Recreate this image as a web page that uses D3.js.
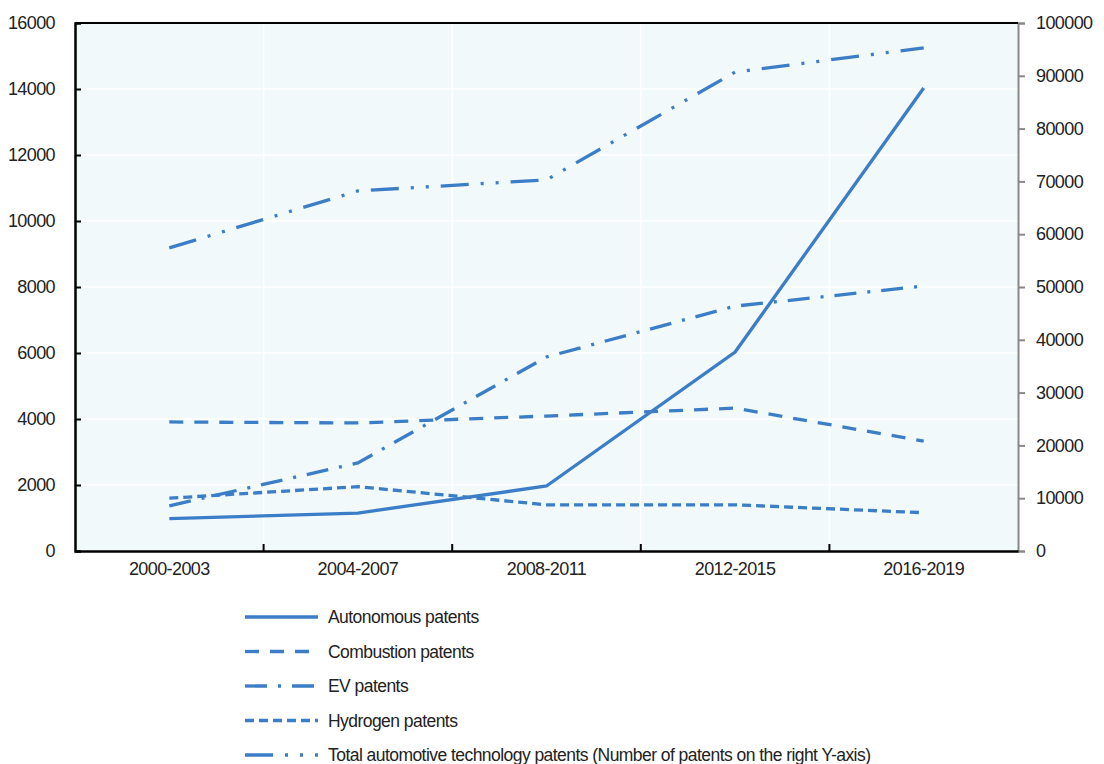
<!DOCTYPE html>
<html>
<head>
<meta charset="utf-8">
<script src="https://cdn.jsdelivr.net/npm/d3@7"></script>
<style>
  body { margin: 0; background: #fff; }
  text { font-family: "Liberation Sans", Arial, sans-serif; fill: #222; }
</style>
</head>
<body>
<script>
const periods = ["2000-2003", "2004-2007", "2008-2011", "2012-2015", "2016-2019"];
const autonomous = [980, 1150, 1970, 6030, 14030];
const combustion = [3910, 3880, 4090, 4330, 3330];
const ev = [1370, 2670, 5880, 7420, 8030];
const hydrogen = [1600, 1950, 1400, 1400, 1160];
const totalAuto = [57400, 68200, 70300, 90700, 95300];
const leftTicks = [0, 2000, 4000, 6000, 8000, 10000, 12000, 14000, 16000];
const rightTicks = [0, 10000, 20000, 30000, 40000, 50000, 60000, 70000, 80000, 90000, 100000];

const series = [
  { name: "Autonomous patents", values: autonomous, axis: "left", dash: null },
  { name: "Combustion patents", values: combustion, axis: "left", dash: "14,11" },
  { name: "EV patents", values: ev, axis: "left", dash: "22,11,3,11" },
  { name: "Hydrogen patents", values: hydrogen, axis: "left", dash: "9,5" },
  { name: "Total automotive technology patents (Number of patents on the right Y-axis)", values: totalAuto, axis: "right", dash: "28,12,3,12,3,12" }
];

const width = 1104;
const height = 764;
const plot = { left: 75, right: 1018, top: 23, bottom: 551 };
const color = "#3b7ec7";

const svg = d3.select("body").append("svg")
  .attr("width", width)
  .attr("height", height);

const xScale = d3.scaleBand()
  .domain(periods)
  .range([plot.left, plot.right]);

const yLeft = d3.scaleLinear().domain([0, 16000]).range([plot.bottom, plot.top]);
const yRight = d3.scaleLinear().domain([0, 100000]).range([plot.bottom, plot.top]);

// plot background
svg.append("rect")
  .attr("x", plot.left)
  .attr("y", plot.top)
  .attr("width", plot.right - plot.left)
  .attr("height", plot.bottom - plot.top)
  .attr("fill", "#f2f9fa");

// grid
const grid = svg.append("g");
grid.selectAll("line.h")
  .data(leftTicks.slice(1, -1))
  .enter().append("line")
  .attr("x1", plot.left).attr("x2", plot.right)
  .attr("y1", (d) => yLeft(d)).attr("y2", (d) => yLeft(d))
  .attr("stroke", "#fff").attr("stroke-width", 1.5);

grid.selectAll("line.v")
  .data(periods.slice(1))
  .enter().append("line")
  .attr("x1", (d) => xScale(d)).attr("x2", (d) => xScale(d))
  .attr("y1", plot.top).attr("y2", plot.bottom)
  .attr("stroke", "#fff").attr("stroke-width", 1.5);

// lines
const lineGroup = svg.append("g");
series.forEach((s) => {
  const y = s.axis === "left" ? yLeft : yRight;
  const line = d3.line()
    .x((d, i) => xScale(periods[i]) + xScale.bandwidth() / 2)
    .y((d) => y(d));
  lineGroup.append("path")
    .datum(s.values)
    .attr("d", line)
    .attr("fill", "none")
    .attr("stroke", color)
    .attr("stroke-width", 3.3)
    .attr("stroke-dasharray", s.dash);
});

// axes
const fontSize = 18;
const styleTicks = (sel) =>
  sel
    .attr("font-size", fontSize)
    .attr("letter-spacing", "-0.6")
    .attr("font-family", "Liberation Sans, Arial, sans-serif")
    .attr("fill", "#222");

const leftAxis = svg.append("g")
  .attr("transform", `translate(${plot.left} 0)`)
  .call(d3.axisLeft(yLeft).tickValues(leftTicks).tickSize(-6).tickPadding(20).tickFormat(d3.format("d")));
leftAxis.select(".domain").attr("stroke", "#000").attr("stroke-width", 2.5);
leftAxis.selectAll(".tick line").attr("stroke", "#000").attr("stroke-width", 2);
styleTicks(leftAxis.selectAll(".tick text"));
leftAxis.selectAll(".tick").filter((d) => d === 0 || d === 16000).select("line").remove();

const rightAxis = svg.append("g")
  .attr("transform", `translate(${plot.right} 0)`)
  .call(d3.axisRight(yRight).tickValues(rightTicks).tickSize(7).tickPadding(11).tickFormat(d3.format("d")));
rightAxis.select(".domain").attr("stroke", "#888").attr("stroke-width", 2);
rightAxis.selectAll(".tick line").attr("stroke", "#888").attr("stroke-width", 2);
styleTicks(rightAxis.selectAll(".tick text"));

// top border
svg.append("line")
  .attr("x1", plot.left).attr("x2", plot.right)
  .attr("y1", plot.top).attr("y2", plot.top)
  .attr("stroke", "#000").attr("stroke-width", 2);

const bottomAxis = svg.append("g")
  .attr("transform", `translate(0 ${plot.bottom})`)
  .call(d3.axisBottom(xScale).tickSize(0).tickPadding(11));
bottomAxis.select(".domain").attr("stroke", "#000").attr("stroke-width", 2.5);
styleTicks(bottomAxis.selectAll(".tick text"));

// inner tick marks between categories
bottomAxis.selectAll("line.sep")
  .data(periods.slice(1))
  .enter().append("line")
  .attr("x1", (d) => xScale(d)).attr("x2", (d) => xScale(d))
  .attr("y1", 0).attr("y2", -7)
  .attr("stroke", "#000").attr("stroke-width", 2);

// legend
const legend = svg.append("g").attr("transform", "translate(245 617)");
const legendRows = legend.selectAll("g")
  .data(series)
  .enter().append("g")
  .attr("transform", (d, i) => `translate(0 ${i * 34.5})`);

legendRows.append("line")
  .attr("x1", 0).attr("x2", 73)
  .attr("y1", 0).attr("y2", 0)
  .attr("stroke", color)
  .attr("stroke-width", 3.3)
  .attr("stroke-dasharray", (d) => d.dash);

legendRows.append("text")
  .attr("x", 83)
  .attr("y", 0)
  .attr("dy", "0.35em")
  .attr("font-size", 17.5)
  .attr("letter-spacing", "-0.55")
  .text((d) => d.name);
</script>
</body>
</html>
